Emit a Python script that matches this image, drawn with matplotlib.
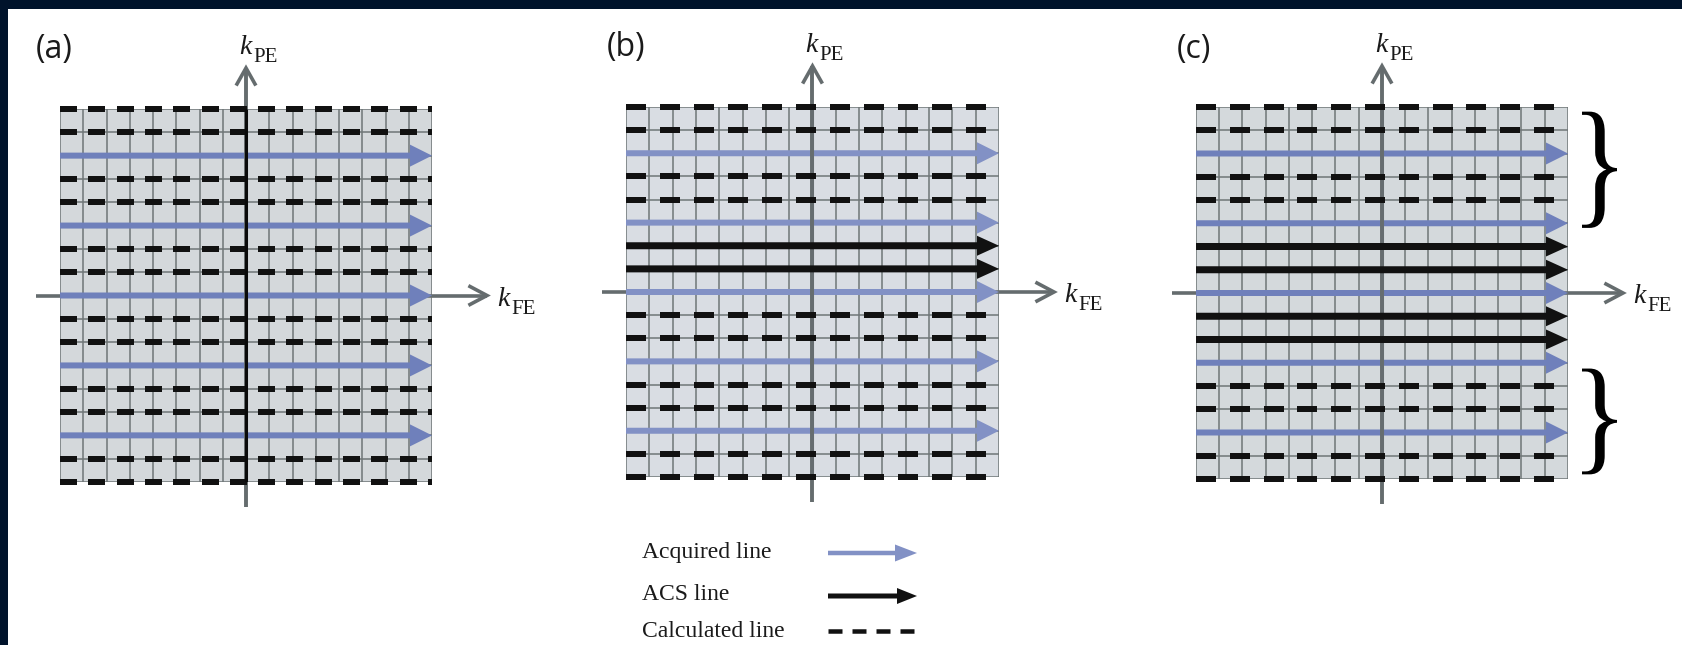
import matplotlib
matplotlib.use('Agg')
import numpy as np
import matplotlib.pyplot as plt
from matplotlib.patches import Rectangle, PathPatch
from matplotlib.textpath import TextPath
from matplotlib.font_manager import FontProperties
from matplotlib.transforms import Affine2D

# ---------------- data ----------------
n_cells = 16
panel_labels = ['(a)', '(b)', '(c)']
rows_a = ['calc', 'calc', 'acq', 'calc', 'calc', 'acq', 'calc', 'calc', 'acq',
          'calc', 'calc', 'acq', 'calc', 'calc', 'acq', 'calc', 'calc']
rows_b = ['calc', 'calc', 'acq', 'calc', 'calc', 'acq', 'acs', 'acs', 'acq',
          'calc', 'calc', 'acq', 'calc', 'calc', 'acq', 'calc', 'calc']
rows_c = ['calc', 'calc', 'acq', 'calc', 'calc', 'acq', 'acs', 'acs', 'acq',
          'acs', 'acs', 'acq', 'calc', 'calc', 'acq', 'calc', 'calc']
brace_rows_c = [(0.2, 5.2), (11.25, 15.8)]
legend_labels = ['Acquired line', 'ACS line', 'Calculated line']
legend_kinds = ['acq', 'acs', 'calc']
pe_label = ('k', 'PE')
fe_label = ('k', 'FE')

# ---------------- layout / style ----------------
W, H, DPI = 1683, 645, 100
PT = 0.72  # points per pixel
boxes = [(60, 109, 432, 482), (626, 107, 999, 477), (1196, 107, 1568, 479)]
label_pos = [(36, 33), (607, 31), (1177, 33)]
fills = ['#d4d8db', '#d9dde3', '#d4d9dc']
blues = ['#6f80bb', '#8291c5', '#6f80bb']
dash_px = [(17, 11.3), (20.5, 13.5), (20, 13.8)]
center_line_colors = ['#0a0a0a', '#666d70', '#666d70']
gridc = '#6f7677'
axc = '#656c6e'
blackc = '#111111'
textc = '#1a1a1a'
serif = 'Liberation Serif'

fig = plt.figure(figsize=(W / DPI, H / DPI), dpi=DPI)
fig.patch.set_facecolor('white')

over = fig.add_axes([0, 0, 1, 1])
over.set_xlim(0, W)
over.set_ylim(H, 0)
over.axis('off')
over.add_patch(Rectangle((0, 0), W, 9, color='#00132b', lw=0))
over.add_patch(Rectangle((0, 0), 8, H, color='#00132b', lw=0))


def dashed_hline(ax, y, x0, x1, on, off, lw, color, zorder):
    starts = np.arange(x0, x1, on + off)
    ends = np.minimum(starts + on, x1)
    lc = ax.hlines(np.full(len(starts), y), starts, ends, colors=color, lw=lw,
                   zorder=zorder)
    lc.set_capstyle('butt')
    lc.set_clip_on(False)


def draw_panel(i, rows):
    l, t, r, b = boxes[i]
    ax = fig.add_axes([l / W, 1 - b / H, (r - l) / W, (b - t) / H])
    ax.set_xlim(0, n_cells)
    ax.set_ylim(n_cells, 0)
    ax.axis('off')
    cx = (r - l) / n_cells
    cy = (b - t) / n_cells
    mid = n_cells / 2

    ax.add_patch(Rectangle((0, 0), n_cells, n_cells, fc=fills[i], ec='none', zorder=0))
    ticks = range(n_cells + 1)
    ax.vlines(ticks, 0, n_cells, color=gridc, lw=1.1, zorder=1)
    ax.hlines(ticks, 0, n_cells, color=gridc, lw=1.1, zorder=1)

    # k_FE axis
    xs = -24 / cx
    xtip = n_cells + 55 / cx
    ax.plot([xs, xtip], [mid, mid], color=axc, lw=2.6, zorder=2, clip_on=False,
            solid_capstyle='butt')
    ax.plot([xtip - 17 / cx, xtip, xtip - 17 / cx], [mid - 9 / cy, mid, mid + 9 / cy],
            color=axc, lw=2.6, zorder=2, clip_on=False, solid_joinstyle='miter')
    # k_PE axis
    ytip = -41 / cy
    ybot = n_cells + 25 / cy
    ax.plot([mid, mid], [ytip, ybot], color=axc, lw=2.8, zorder=3.5, clip_on=False,
            solid_capstyle='butt')
    ax.plot([mid - 9 / cx, mid, mid + 9 / cx], [ytip + 16 / cy, ytip, ytip + 16 / cy],
            color=axc, lw=2.6, zorder=3.5, clip_on=False, solid_joinstyle='miter')
    ax.plot([mid, mid], [0, n_cells], color=center_line_colors[i], lw=2.2,
            zorder=5 if i == 0 else 3.5, solid_capstyle='butt')

    on, off = dash_px[i]
    for k, kind in enumerate(rows):
        if kind == 'calc':
            dashed_hline(ax, k, 0, n_cells, on / cx, off / cx, 6 * PT, blackc, 4)
        elif kind == 'acq':
            ax.arrow(0, k, n_cells, 0, width=6 / cy, head_width=22 / cy,
                     head_length=22 / cx, length_includes_head=True,
                     fc=blues[i], ec='none', lw=0, zorder=3)
        else:
            ax.arrow(0, k, n_cells, 0, width=7 / cy, head_width=20 / cy,
                     head_length=22 / cx, length_includes_head=True,
                     fc=blackc, ec='none', lw=0, zorder=4)

    # labels (pixel placement)
    ax_x = l + mid * cx
    ax_y = t + mid * cy
    over.text(ax_x - 7, t - 55, pe_label[0], fontsize=20, family=serif, style='italic',
              ha='left', va='baseline', color=textc)
    over.text(ax_x + 7, t - 47, pe_label[1], fontsize=15, family=serif,
              ha='left', va='baseline', color=textc)
    tip_px = l + xtip * cx
    over.text(tip_px + 10, ax_y + 10, fe_label[0], fontsize=20, family=serif, style='italic',
              ha='left', va='baseline', color=textc)
    over.text(tip_px + 24, ax_y + 18, fe_label[1], fontsize=15, family=serif,
              ha='left', va='baseline', color=textc)
    lx, ly = label_pos[i]
    over.text(lx, ly, panel_labels[i], fontsize=23, family='Open Sans',
              ha='left', va='top', color=textc)
    return ax, cx, cy


axes = []
for i, rows in enumerate([rows_a, rows_b, rows_c]):
    axes.append(draw_panel(i, rows))

# braces on panel (c)
ax3, cx, cy = axes[2]
tp = TextPath((0, 0), '}', size=100, prop=FontProperties(family=serif))
ext = tp.get_extents()
bx0, bx1 = n_cells + 14 / cx, n_cells + 49 / cx
for (y0, y1) in brace_rows_c:
    h = y1 - y0
    tr = (Affine2D().translate(-ext.x0, -ext.y0)
          .scale((bx1 - bx0) / ext.width, -h / ext.height)
          .translate(bx0, y1))
    path = tr.transform_path(tp)
    ax3.add_patch(PathPatch(path, fc='black', ec='none', clip_on=False, zorder=5))

# legend
leg_text_x = 642
leg_base = [558, 600, 637]
leg_sym_y = [553, 596, 631]
sx0, sx1 = 828, 917
for lab, kind, yb, ys in zip(legend_labels, legend_kinds, leg_base, leg_sym_y):
    over.text(leg_text_x, yb, lab, fontsize=17, family=serif, ha='left',
              va='baseline', color=textc)
    if kind == 'acq':
        over.arrow(sx0, ys, sx1 - sx0, 0, width=4.5, head_width=17, head_length=22,
                   length_includes_head=True, fc=blues[1], ec='none', lw=0)
    elif kind == 'acs':
        over.arrow(sx0, ys, sx1 - sx0, 0, width=5, head_width=16, head_length=20,
                   length_includes_head=True, fc=blackc, ec='none', lw=0)
    else:
        dashed_hline(over, ys, sx0, sx0 + 86, 14, 10, 4.5 * PT, blackc, 3)

fig.savefig('out.png', dpi=DPI, facecolor='white')
